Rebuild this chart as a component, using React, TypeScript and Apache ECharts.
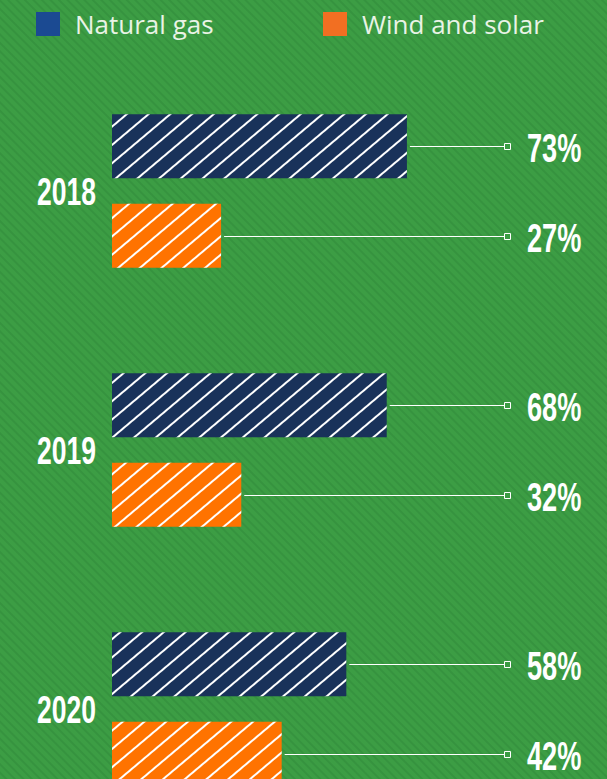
import React, { useEffect, useRef } from "react";
import * as echarts from "echarts";

const years = ["2018", "2019", "2020"];
const naturalGas = [73, 68, 58];
const windSolar = [27, 32, 42];
const seriesNames = ["Natural gas", "Wind and solar"];

const BAR_W = 64;
const BAR_GAP = 0.4;
const OFFSET = (BAR_W * (1 + BAR_GAP)) / 2;
const LABEL_FONT = '"Liberation Sans", Arial, sans-serif';
const SQUEEZE = 0.68;

const stripe = {
  symbol: "rect",
  symbolSize: 1,
  dashArrayX: [1, 0],
  dashArrayY: [2, 12],
  rotation: -0.7,
  color: "#ffffff",
};

export default function App() {
  const ref = useRef<HTMLDivElement>(null);
  useEffect(() => {
    if (!ref.current) return;
    const chart = echarts.init(ref.current, undefined, { renderer: "svg" });
    const leaderData: number[][] = [];
    years.forEach((_, i) => {
      leaderData.push([naturalGas[i], i, -1]);
      leaderData.push([windSolar[i], i, 1]);
    });
    const legendText = {
      color: "#e9f3e6",
      fontSize: 26,
      fontFamily: "Open Sans",
      fontWeight: 400,
      padding: [0, 0, 0, 10],
    };
    chart.setOption({
      animation: false,
      backgroundColor: "transparent",
      legend: [
        {
          left: 36,
          top: 11,
          padding: 0,
          icon: "rect",
          itemWidth: 24,
          itemHeight: 24,
          data: [{ name: seriesNames[0], itemStyle: { color: "#1b4a92", decal: "none" } }],
          textStyle: legendText,
          selectedMode: false,
        },
        {
          left: 323,
          top: 11,
          padding: 0,
          icon: "rect",
          itemWidth: 24,
          itemHeight: 24,
          data: [{ name: seriesNames[1], itemStyle: { color: "#f26f22", decal: "none" } }],
          textStyle: legendText,
          selectedMode: false,
        },
      ],
      grid: { left: 112, width: 404, top: 61.5, height: 777 },
      xAxis: { type: "value", min: 0, max: 100, show: false },
      yAxis: {
        type: "category",
        data: years,
        inverse: true,
        axisLine: { show: false },
        axisTick: { show: false },
        axisLabel: { show: false },
      },
      series: [
        {
          name: seriesNames[0],
          type: "bar",
          data: naturalGas,
          barWidth: BAR_W,
          barGap: "40%",
          itemStyle: { color: "#19325a", decal: stripe },
        },
        {
          name: seriesNames[1],
          type: "bar",
          data: windSolar,
          barWidth: BAR_W,
          barGap: "40%",
          itemStyle: { color: "#ff7300", decal: stripe },
        },
        {
          type: "custom",
          data: years.map((y, i) => [0, i]),
          silent: true,
          renderItem: (params: any, api: any) => {
            const c = api.value(1);
            const p = api.coord([0, c]);
            return {
              type: "text",
              x: 96,
              y: p[1] + 1,
              scaleX: SQUEEZE,
              style: {
                text: years[c],
                fill: "#ffffff",
                font: `bold 39px ${LABEL_FONT}`,
                textAlign: "right",
                textVerticalAlign: "middle",
                verticalAlign: "middle",
              },
            };
          },
        },
        {
          type: "custom",
          data: leaderData,
          silent: true,
          renderItem: (params: any, api: any) => {
            const v = api.value(0);
            const c = api.value(1);
            const s = api.value(2);
            const p = api.coord([v, c]);
            const y = Math.round(p[1] + s * OFFSET) + 0.5;
            return {
              type: "group",
              children: [
                {
                  type: "line",
                  shape: { x1: p[0] + 3, y1: y, x2: 504, y2: y },
                  style: { stroke: "#ffffff", lineWidth: 1 },
                },
                {
                  type: "rect",
                  shape: { x: 504.5, y: y - 3, width: 6, height: 6 },
                  style: { stroke: "#ffffff", fill: "#3a9b42", lineWidth: 1 },
                },
                {
                  type: "text",
                  x: 527,
                  y: y + 1,
                  scaleX: SQUEEZE,
                  style: {
                    text: v + "%",
                    fill: "#ffffff",
                    font: `bold 40px ${LABEL_FONT}`,
                    textAlign: "left",
                    textVerticalAlign: "middle",
                    verticalAlign: "middle",
                  },
                },
              ],
            };
          },
        },
      ],
    });
    return () => chart.dispose();
  }, []);
  return (
    <div
      style={{
        position: "fixed",
        left: 0,
        top: 0,
        width: 607,
        height: 779,
        overflow: "hidden",
        background:
          "repeating-linear-gradient(45deg, #3c9d44 0px, #3c9d44 3px, #36933f 4px, #36933f 5px, #3c9d44 6px)",
      }}
    >
      <div ref={ref} style={{ width: 607, height: 880 }} />
    </div>
  );
}
